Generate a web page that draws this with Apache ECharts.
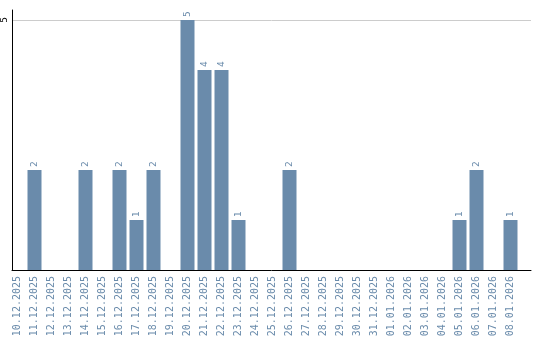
<!DOCTYPE html>
<html><head><meta charset="utf-8">
<script src="https://cdn.jsdelivr.net/npm/echarts@6/dist/echarts.min.js"></script>
<style>html,body{margin:0;padding:0;background:#fff}#c{width:540px;height:340px}</style>
</head><body><div id="c"></div>
<script>
const categories = ['10.12.2025','11.12.2025','12.12.2025','13.12.2025','14.12.2025','15.12.2025','16.12.2025','17.12.2025','18.12.2025','19.12.2025','20.12.2025','21.12.2025','22.12.2025','23.12.2025','24.12.2025','25.12.2025','26.12.2025','27.12.2025','28.12.2025','29.12.2025','30.12.2025','31.12.2025','01.01.2026','02.01.2026','03.01.2026','04.01.2026','05.01.2026','06.01.2026','07.01.2026','08.01.2026'];
const counts = [0,2,0,0,2,0,2,1,2,0,5,4,4,1,0,0,2,0,0,0,0,0,0,0,0,0,1,2,0,1];
const yMax = 5.2;
const yTick = 5;

const barColor = '#6a8bab';
const chart = echarts.init(document.getElementById('c'), null, {renderer:'canvas'});
chart.setOption({
  animation: false,
  grid: [
    {left: 9, width: 510, top: 10, bottom: 70},
    {left: 10, right: 9, top: 10, bottom: 70}
  ],
  xAxis: [
    {type: 'category', gridIndex: 0, data: categories,
     axisLine: {show: false}, axisTick: {show: false},
     axisLabel: {rotate: 90, interval: 0, margin: 6, color: barColor,
                 fontFamily: 'DejaVu Sans Mono', fontSize: 10}},
    {type: 'value', gridIndex: 1, min: 0, max: 1,
     axisLine: {show: true, lineStyle: {color: '#000', width: 1}},
     axisTick: {show: false}, axisLabel: {show: false}, splitLine: {show: false}}
  ],
  yAxis: [
    {type: 'value', gridIndex: 0, min: 0, max: yMax, show: false, splitLine: {show: false}},
    {type: 'value', gridIndex: 1, min: 0, max: yMax, interval: yTick,
     axisLine: {show: true, lineStyle: {color: '#000', width: 1}},
     axisTick: {show: false},
     axisLabel: {rotate: 90, margin: 3, color: '#000', fontSize: 9, fontFamily: 'DejaVu Sans',
                 formatter: v => (v === yTick ? String(v) : '')},
     splitLine: {show: true, lineStyle: {color: ['transparent', '#cccccc', 'transparent'], width: 1}}}
  ],
  series: [{
    type: 'bar', xAxisIndex: 0, yAxisIndex: 0,
    data: counts.map(v => v === 0 ? null : v),
    barWidth: 14,
    itemStyle: {color: barColor},
    label: {show: true, position: 'top', rotate: 90, distance: 3, align: 'left', verticalAlign: 'middle',
            color: barColor, fontSize: 9, fontFamily: 'DejaVu Sans'}
  }]
});
</script></body></html>
